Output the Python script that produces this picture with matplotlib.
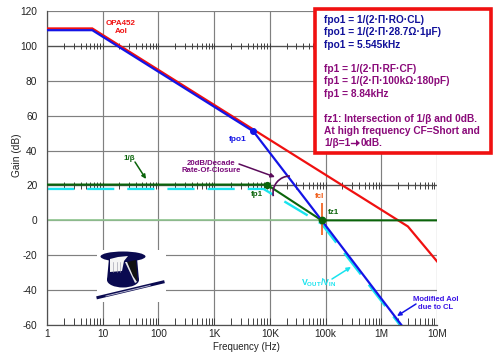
import numpy as np
import matplotlib
matplotlib.use('Agg')
import matplotlib.pyplot as plt
from matplotlib.patches import Rectangle, Ellipse, Polygon, Arc

plt.rcParams['font.family'] = ['Liberation Sans', 'DejaVu Sans']
plt.rcParams['axes.unicode_minus'] = False
plt.rcParams['mathtext.fontset'] = 'custom'
plt.rcParams['mathtext.bf'] = 'Liberation Sans:bold'
plt.rcParams['mathtext.rm'] = 'Liberation Sans:bold'

# ---- data
red_f = [1, 6.5, 3e6, 1e7]
red_db = [110, 110, -3.5, -23.5]
blue_f = [1, 6.5, 5060, 85000, 2.86e6]
blue_db = [109, 109, 51, 0, -64]
green_f = [1, 8840, 85000, 1e7]
green_db = [20.5, 20.5, 0, 0]
light_f = [1, 85000]
light_db = [0, 0]
cyan_f = [1, 7700, 85000, 2.7e6]
cyan_db = [18, 18, -2, -64]
x_ticks = [1, 10, 100, 1e3, 1e4, 1e5, 1e6, 1e7]
x_labels = ['1', '10', '100', '1K', '10K', '100k', '1M', '10M']
y_ticks = [-60, -40, -20, 0, 20, 40, 60, 80, 100, 120]
tick_rows = [100, 20]
minor_mult = [2, 3, 4, 5, 6, 7, 8, 9]

W, H = 500, 357
fig = plt.figure(figsize=(5, 3.57), dpi=100)
ax = fig.add_axes([47/W, 1-325/H, (437-47)/W, (325-11)/H])
ax.set_xscale('log')
ax.set_xlim(1, 1e7)
ax.set_ylim(-60, 120)
ax.minorticks_off()
ax.set_xticks(x_ticks, x_labels)
ax.set_yticks(y_ticks)
ax.tick_params(length=0, labelsize=7.3, colors='#222222')
ax.tick_params(axis='x', pad=3)
ax.tick_params(axis='y', pad=7)
ax.grid(True, color='#808080', lw=0.85)
ax.set_axisbelow(True)
for s in ['top', 'right']:
    ax.spines[s].set_visible(False)
for s in ['left', 'bottom']:
    ax.spines[s].set_color('#505050')
    ax.spines[s].set_linewidth(0.9)
ax.set_xlabel('Frequency (Hz)', fontsize=7, color='#222222')
ax.xaxis.set_label_coords((246-47)/390, -(347-325)/314, transform=ax.transAxes)
ax.xaxis.label.set_va('center')
ax.set_ylabel('Gain (dB)', fontsize=7.3, color='#222222')
ax.yaxis.set_label_coords((17-47)/390, (325-155)/314, transform=ax.transAxes)
ax.yaxis.label.set_va('center')

minors = [d*m for d in x_ticks[:-1] for m in [1]+minor_mult]
for row in tick_rows:
    ax.axhline(row, color='#505050', lw=0.9, zorder=1.5)
    ax.vlines(minors, row-1.9, row+1.9, color='#404040', lw=0.7, zorder=1.5)
ax.vlines(minors, -60, -56, color='#404040', lw=0.7, zorder=1.5)

ax.plot(light_f, light_db, color='#8fc58f', lw=1.2, zorder=2)
ax.plot(cyan_f, cyan_db, color='#19e3ee', lw=1.7, zorder=2.2, dashes=(11.5, 5.5), dash_capstyle='butt')
ax.plot(red_f, red_db, color='#f01010', lw=1.6, zorder=3, solid_joinstyle='miter')
ax.plot(green_f, green_db, color='#0a640a', lw=1.5, zorder=3.2)
ax.plot(blue_f, blue_db, color='#1414e6', lw=1.6, zorder=3.4, solid_joinstyle='miter')
ax.plot([5060], [51], 'o', color='#1414e6', ms=4, zorder=4)
ax.plot([8840], [20.5], 'o', color='#0a640a', ms=4.2, zorder=4)
ax.plot([85000], [0], 'o', color='#0a640a', ms=4.6, zorder=4)

def P(x, y):
    return (x/W, 1-y/H)

def txt(x, y, s, c, size=5.8, **kw):
    kw.setdefault('ha', 'center')
    fig.text(*P(x, y), s, color=c, fontsize=size, fontweight='bold', va='center', zorder=8, **kw)

def arrow(a, b, c, lw=1.1, ms=6):
    ax.annotate('', xy=a, xytext=b, xycoords='figure pixels', textcoords='figure pixels',
                arrowprops=dict(arrowstyle='-|>', color=c, lw=lw, mutation_scale=ms, shrinkA=0, shrinkB=0), zorder=6)

def fp(x, y):
    return (x, H-y)

# crossover marks
ax.vlines([85000], -8.5, 10, color='#f05a14', lw=1.2, zorder=3.1)
txt(320, 196, 'fcl', '#f05a14')
txt(333, 213, 'fz1', '#0a640a')
txt(257, 195, 'fp1', '#0a640a')
txt(238, 140, 'fpo1', '#1414e6', size=6)
txt(121, 27.5, 'OPA452\nAol', '#f01010', size=5.8, linespacing=1.15)
txt(129, 158, '1/β', '#0a640a', size=5.8)
txt(211, 167, '20dB/Decade\nRate-Of-Closure', '#7a0a7a', size=5.6, linespacing=1.15)
txt(436, 303.5, 'Modified Aol\ndue to CL', '#3a14e6', size=5.5, linespacing=1.15)
txt(319, 283, r'V$_{\mathbf{OUT}}$/V$_{\mathbf{IN}}$', '#19e3ee', size=6.3)

arrow(fp(146, 179), fp(135, 162), '#0a640a')
arrow(fp(275, 177), fp(239, 164), '#5a0a5a')
arrow(fp(397, 316), fp(416, 304), '#1414e6')
arrow(fp(351, 267), fp(332, 279), '#19e3ee')
arc = Arc(P(290, 193), 34/W, 34/H, theta1=90, theta2=195, color='#5a0a5a', lw=1.2, transform=fig.transFigure)
arc.set_zorder(5)
fig.add_artist(arc)

# hat image region
def add(p):
    p.set_transform(fig.transFigure)
    p.set_zorder(7)
    fig.add_artist(p)

def poly(pts, c):
    add(Polygon([P(*q) for q in pts], closed=True, fc=c, ec='none'))

add(Rectangle(P(97, 302), 69/W, 52/H, fc='white', ec='none'))
navy = '#0a0a50'
add(Ellipse(P(123, 256.5), 45/W, 10/H, fc=navy, ec='none'))
poly([(109, 258), (137, 258), (139, 280), (107, 280)], navy)
add(Ellipse(P(123, 280), 32/W, 15/H, fc=navy, ec='none'))
poly([(127, 262), (136, 260), (137.5, 282), (133, 276)], '#111111')
poly([(125, 262), (127, 262), (133, 276), (137, 282), (135, 283)], '#e8e8e8')
poly([(110, 272), (110, 259), (118, 257), (128, 256), (124, 261), (122, 271)], '#f4f4f4')
for fx in (113, 116.5, 120):
    fig.add_artist(plt.Line2D([fx, fx], [H-262, H-272], color='#9090a0', lw=0.4, transform=None, zorder=7.1))
ln = plt.Line2D([98, 163], [H-297.5, H-282], color=navy, lw=2.2, transform=None, zorder=7)
fig.add_artist(ln)
ln2 = plt.Line2D([106, 150], [H-296, H-285.5], color='#b8b8d0', lw=0.7, transform=None, zorder=7.1)
fig.add_artist(ln2)

# formula box
add(Rectangle(P(315, 153), 176/W, 144/H, fc='white', ec='#f01010', lw=2.6))
blue = '#10109a'
purple = '#8a0a7a'
rows = [(20, 'fpo1 = 1/(2·Π·RO·CL)', blue), (32, 'fpo1 = 1/(2·Π·28.7Ω·1µF)', blue),
        (45, 'fpo1 = 5.545kHz', blue), (69, 'fp1 = 1/(2·Π·RF·CF)', purple),
        (81, 'fp1 = 1/(2·Π·100kΩ·180pF)', purple), (94, 'fp1 = 8.84kHz', purple),
        (119, 'fz1: Intersection of 1/β and 0dB.', purple),
        (131, 'At high frequency CF=Short and', purple), (143, '1/β=1', purple)]
for y, s, c in rows:
    txt(324, y, s, c, size=7.25, ha='left')
txt(360.5, 143, '0dB.', purple, size=7.25, ha='left')
fig.add_artist(plt.Line2D([350.5, 357], [H-143, H-143], color=purple, lw=1.0, transform=None, zorder=8))
poly([(360, 143), (356, 139.5), (356, 146.5)], purple)

fig.savefig('out.png', dpi=100)
